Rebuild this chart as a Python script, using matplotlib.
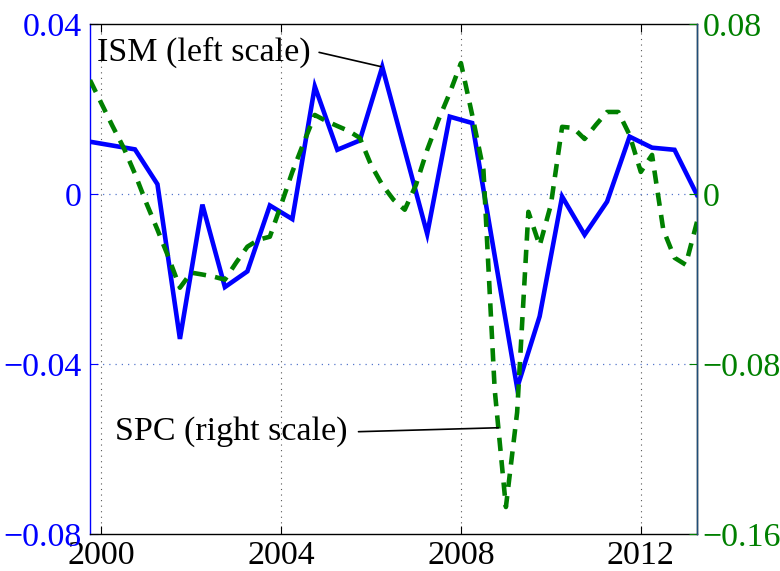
import numpy as np
import matplotlib
matplotlib.use("Agg")
import matplotlib.pyplot as plt

plt.rcParams['font.family'] = ['Liberation Serif', 'DejaVu Serif']

# ISM (left scale), semiannual
ism_dates = np.arange(1999.75, 2013.26, 0.5)
ism = [0.0123, 0.0114, 0.0105, 0.0023, -0.0341, -0.0025, -0.0219, -0.0182,
       -0.0027, -0.0059, 0.0253, 0.0104, 0.0126, 0.0299, 0.0103, -0.0094,
       0.0182, 0.0167, -0.0145, -0.0456, -0.0288, -0.0006, -0.0096, -0.0018,
       0.0135, 0.0109, 0.0104, -0.0002]

# SPC (right scale), quarterly
spc_dates = np.arange(1999.75, 2013.26, 0.25)
spc = [0.0536, 0.0428, 0.0320, 0.0217, 0.0095, -0.0041, -0.0168, -0.0300,
       -0.0441, -0.0370, -0.0379, -0.0389, -0.0403, -0.0323, -0.0248, -0.0215,
       -0.0201, -0.0051, 0.0104, 0.0240, 0.0372, 0.0344, 0.0320, 0.0297,
       0.0264, 0.0137, 0.0043, -0.0027, -0.0074, 0.0043, 0.0208, 0.0349,
       0.0475, 0.0616, 0.0372, 0.0114, -0.0919, -0.1473, -0.1027, -0.0084,
       -0.0243, -0.0051, 0.0316, 0.0311, 0.0259, 0.0325, 0.0386, 0.0386,
       0.0278, 0.0104, 0.0184, -0.0168, -0.0300, -0.0333, -0.0131]

x_ticks = [2000, 2004, 2008, 2012]
left_ticks = [-0.08, -0.04, 0, 0.04]
left_labels = ['\u22120.08', '\u22120.04', '0', '0.04']
right_ticks = [-0.16, -0.08, 0, 0.08]
right_labels = ['\u22120.16', '\u22120.08', '0', '0.08']

BLUE = '#0000ff'
GREEN = '#008000'
FS = 24.5

fig = plt.figure(figsize=(7.8, 5.71), dpi=100)
ax = fig.add_axes([90/780, 1-534/571, 607/780, 510/571])
ax2 = ax.twinx()

ax.set_xlim(1999.75, 2013.25)
ax.set_ylim(-0.08, 0.04)
ax2.set_ylim(-0.16, 0.08)

ax.plot(ism_dates, ism, color=BLUE, lw=3.3, solid_joinstyle='miter', zorder=3)
ax2.plot(spc_dates, spc, color=GREEN, lw=3.3, dashes=(2.9, 2.0), zorder=3)

# grids
for xt in x_ticks:
    ax.axvline(xt, color='#555555', ls=(0, (1, 4)), lw=0.8, zorder=1)
for yt in [0, -0.04]:
    ax.axhline(yt, color='#5577cc', ls=(0, (1, 4)), lw=0.9, zorder=1)

ax.set_xticks(x_ticks)
ax.set_xticklabels([str(t) for t in x_ticks], fontsize=FS)
ax.set_yticks(left_ticks)
ax.set_yticklabels(left_labels, fontsize=FS, color=BLUE)
ax2.set_yticks(right_ticks)
ax2.set_yticklabels(right_labels, fontsize=FS, color=GREEN)

ax.tick_params(axis='x', direction='in', length=6, width=0.8, top=True, pad=5)
ax.tick_params(axis='y', direction='in', length=6, width=0.8, colors=BLUE, pad=6)
ax2.tick_params(axis='y', direction='in', length=6, width=0.8, colors=GREEN, pad=4)

ax.spines['left'].set_color(BLUE)
ax2.spines['left'].set_visible(False)
ax2.spines['right'].set_color('#1f4e79')
for s in ['top', 'bottom']:
    ax.spines[s].set_color('black')
for s in ax.spines.values():
    s.set_linewidth(1.0)
ax2.spines['right'].set_linewidth(1.0)
ax2.spines['top'].set_visible(False)
ax2.spines['bottom'].set_visible(False)

# annotations
ipk = int(np.argmax(ism[10:16])) + 10
ax.annotate('ISM (left scale)', xy=(ism_dates[ipk], ism[ipk]),
            xytext=(0.012, 0.945), textcoords='axes fraction',
            ha='left', va='center', fontsize=FS,
            arrowprops=dict(arrowstyle='-', color='black', lw=1.2,
                            shrinkA=4, shrinkB=1, relpos=(1.0, 0.55)))

target = -0.11
i0 = int(np.argmin(spc))
seg_x = [spc_dates[i0-1], spc_dates[i0]]
seg_y = [spc[i0-1], spc[i0]]
xt_spc = np.interp(target, seg_y[::-1], seg_x[::-1])
ax2.annotate('SPC (right scale)', xy=(xt_spc, target),
             xytext=(0.041, 0.20), textcoords='axes fraction',
             ha='left', va='center', fontsize=FS,
             arrowprops=dict(arrowstyle='-', color='black', lw=1.2,
                             shrinkA=6, shrinkB=0, relpos=(1.0, 0.5)))

fig.savefig('out.png', dpi=100)
